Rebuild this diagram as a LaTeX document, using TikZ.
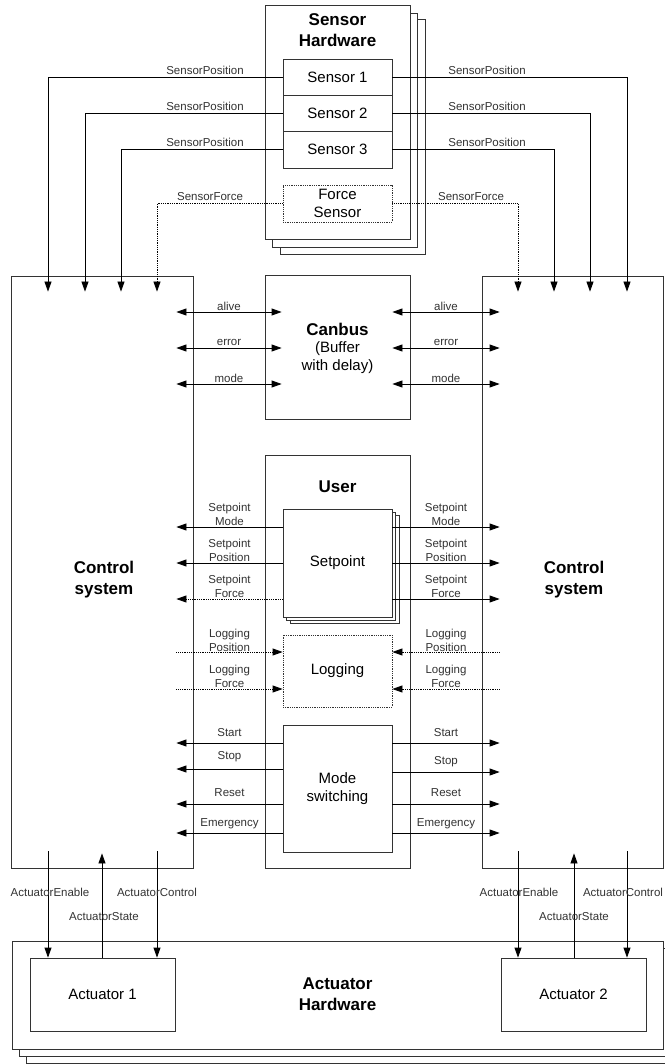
\documentclass[tikz,border=0pt]{standalone}
\usepackage{fontspec}
\setmainfont{Liberation Sans}
\usetikzlibrary{arrows.meta}
\begin{document}
\begin{tikzpicture}[x=1pt,y=-1pt,
  box/.style={draw=black!80, line width=0.8pt, fill=white, inner sep=0pt, font=\fontsize{15}{18}\selectfont, align=center},
  dbox/.style={box, densely dotted},
  ttl/.style={font=\fontsize{17}{21}\selectfont\bfseries, align=center, inner sep=0pt},
  txt/.style={font=\fontsize{15}{18}\selectfont, align=center, inner sep=0pt},
  lbl/.style={font=\fontsize{11.5}{14}\selectfont, align=center, inner sep=0pt, text=black!80},
  con/.style={line width=0.8pt, draw=black},
  arr/.style={con, -{Triangle[length=10pt,width=7pt]}},
  dbl/.style={con, {Triangle[length=10pt,width=7pt]}-{Triangle[length=10pt,width=7pt]}},
  dot/.style={densely dotted},
]
\useasboundingbox (0,0) rectangle (664,1064);
\fill[white] (0,0) rectangle (664,1064);

% Sensor hardware stack
\node[box, minimum width=145pt, minimum height=235pt] (sh3) at (352.5,136.5) {};
\node[box, minimum width=145pt, minimum height=234pt] (sh2) at (344.5,130) {};
\node[box, minimum width=145pt, minimum height=234pt] (sh) at (337.5,122) {};
\node[ttl] (shT) at (337.5,30.5) {Sensor\\Hardware};
\node[box, minimum width=109pt, minimum height=36pt] (s1) at (337.5,77) {Sensor 1};
\node[box, minimum width=109pt, minimum height=36pt] (s2) at (337.5,113) {Sensor 2};
\node[box, minimum width=109pt, minimum height=37pt] (s3) at (337.5,149.5) {Sensor 3};
\node[dbox, minimum width=109pt, minimum height=37pt] (fs) at (337.5,203.5) {Force\\Sensor};

% Control systems
\node[box, minimum width=182pt, minimum height=592pt] (cl) at (102,572) {};
\node[box, minimum width=181pt, minimum height=592pt] (cr) at (572.5,572) {};
\node[ttl] (clT) at (104,580) {Control\\system};
\node[ttl] (crT) at (574,580) {Control\\system};

% Canbus
\node[box, minimum width=145pt, minimum height=144pt] (cb) at (337.5,347) {};
\node[ttl] (cbT) at (337.5,329) {Canbus};
\node[txt] (cbB) at (337.5,358) {(Buffer\\with delay)};

% User
\node[box, minimum width=145pt, minimum height=413pt] (us) at (337.5,661.5) {};
\node[ttl] (usT) at (337.5,487) {User};
\node[box, minimum width=109pt, minimum height=108pt] (sp3) at (344.5,569.5) {};
\node[box, minimum width=109pt, minimum height=108pt] (sp2) at (341,566) {};
\node[box, minimum width=109pt, minimum height=108pt] (sp) at (337.5,563) {Setpoint};
\node[dbox, minimum width=109pt, minimum height=72pt] (lg) at (337.5,671) {Logging};
\node[box, minimum width=109pt, minimum height=127pt] (ms) at (337.5,788.5) {Mode\\switching};

% Actuator hardware
\node[box, minimum width=661pt, minimum height=108pt] (ah3) at (356.5,1009) {};
\node[box, minimum width=661pt, minimum height=108pt] (ah2) at (349.5,1002) {};
\node[box, minimum width=651pt, minimum height=108pt] (ah) at (337.5,995) {};
\node[ttl] (ahT) at (337.5,994) {Actuator\\Hardware};
\node[box, minimum width=145pt, minimum height=73pt] (a1) at (102.5,994.5) {Actuator 1};
\node[box, minimum width=145pt, minimum height=73pt] (a2) at (573.5,994.5) {Actuator 2};

% Sensor connectors
\draw[arr] (s1.west) -| ([yshift=-16pt]cl.north -| 48,0);
\draw[arr] (s2.west) -| ([yshift=-16pt]cl.north -| 85,0);
\draw[arr] (s3.west) -| ([yshift=-16pt]cl.north -| 121,0);
\draw[arr,dot] (fs.west) -| ([yshift=-16pt]cl.north -| 157,0);
\draw[arr] (s1.east) -| ([yshift=-16pt]cr.north -| 627,0);
\draw[arr] (s2.east) -| ([yshift=-16pt]cr.north -| 590,0);
\draw[arr] (s3.east) -| ([yshift=-16pt]cr.north -| 554,0);
\draw[arr,dot] (fs.east) -| ([yshift=-16pt]cr.north -| 518,0);
\node[lbl] (lsl1) at (205,70) {SensorPosition};
\node[lbl] (lsl2) at (205,106) {SensorPosition};
\node[lbl] (lsl3) at (205,142) {SensorPosition};
\node[lbl] (lsl4) at (210,197) {SensorForce};
\node[lbl] (lsr1) at (487,70) {SensorPosition};
\node[lbl] (lsr2) at (487,106) {SensorPosition};
\node[lbl] (lsr3) at (487,142) {SensorPosition};
\node[lbl] (lsr4) at (471,197) {SensorForce};

% Canbus connectors
\foreach \y/\t in {312/alive,348/error,384/mode}{
  \draw[dbl] ([xshift=-17pt]cl.east |- 0,\y) -- node[lbl,yshift=6pt] (cbl\y) {\t} ([xshift=17pt]cb.west |- 0,\y);
  \draw[dbl] ([xshift=-18pt]cb.east |- 0,\y) -- node[lbl,yshift=6pt] (cbr\y) {\t} ([xshift=18pt]cr.west |- 0,\y);
}

% Setpoint connectors
\draw[arr] (sp.west |- 0,527) -- node[lbl,yshift=13pt] (spl1) {Setpoint\\Mode} ([xshift=-17pt]cl.east |- 0,527);
\draw[arr] (sp.west |- 0,563) -- node[lbl,yshift=13pt] (spl2) {Setpoint\\Position} ([xshift=-17pt]cl.east |- 0,563);
\draw[arr,dot] (sp.west |- 0,599) -- node[lbl,yshift=13pt] (spl3) {Setpoint\\Force} ([xshift=-17pt]cl.east |- 0,599);
\draw[arr] (sp.east |- 0,527) -- node[lbl,yshift=13pt] (spr1) {Setpoint\\Mode} ([xshift=18pt]cr.west |- 0,527);
\draw[arr] (sp.east |- 0,563) -- node[lbl,yshift=13pt] (spr2) {Setpoint\\Position} ([xshift=18pt]cr.west |- 0,563);
\draw[arr] (sp.east |- 0,599) -- node[lbl,yshift=13pt] (spr3) {Setpoint\\Force} ([xshift=18pt]cr.west |- 0,599);

% Logging connectors
\draw[arr,dot] ([xshift=-17pt]cl.east |- 0,652) -- node[lbl,yshift=12pt] (lgl1) {Logging\\Position} (lg.west |- 0,652);
\draw[arr,dot] ([xshift=-17pt]cl.east |- 0,689) -- node[lbl,yshift=12.5pt] (lgl2) {Logging\\Force} (lg.west |- 0,689);
\draw[arr,dot] ([xshift=18pt]cr.west |- 0,652) -- node[lbl,yshift=12pt] (lgr1) {Logging\\Position} (lg.east |- 0,652);
\draw[arr,dot] ([xshift=18pt]cr.west |- 0,689) -- node[lbl,yshift=12.5pt] (lgr2) {Logging\\Force} (lg.east |- 0,689);

% Mode switching connectors
\draw[arr] (ms.west |- 0,743) -- node[lbl,yshift=10pt] (msl1) {Start} ([xshift=-17pt]cl.east |- 0,743);
\draw[arr] (ms.west |- 0,769) -- node[lbl,yshift=12pt] (msl2) {Stop} ([xshift=-17pt]cl.east |- 0,769);
\draw[arr] (ms.west |- 0,804) -- node[lbl,yshift=11pt] (msl3) {Reset} ([xshift=-17pt]cl.east |- 0,804);
\draw[arr] (ms.west |- 0,833) -- node[lbl,yshift=9pt] (msl4) {Emergency} ([xshift=-17pt]cl.east |- 0,833);
\draw[arr] (ms.east |- 0,743) -- node[lbl,yshift=10pt] (msr1) {Start} ([xshift=18pt]cr.west |- 0,743);
\draw[arr] (ms.east |- 0,772) -- node[lbl,yshift=10pt] (msr2) {Stop} ([xshift=18pt]cr.west |- 0,772);
\draw[arr] (ms.east |- 0,804) -- node[lbl,yshift=11pt] (msr3) {Reset} ([xshift=18pt]cr.west |- 0,804);
\draw[arr] (ms.east |- 0,833) -- node[lbl,yshift=9pt] (msr4) {Emergency} ([xshift=18pt]cr.west |- 0,833);

% Actuator connectors
\draw[arr] ([yshift=17pt]cl.south -| 48,0) -- (a1.north -| 48,0);
\draw[arr] (a1.north -| 102,0) -- ([yshift=15pt]cl.south -| 102,0);
\draw[arr] ([yshift=17pt]cl.south -| 157,0) -- (a1.north -| 157,0);
\draw[arr] ([yshift=17pt]cr.south -| 518,0) -- (a2.north -| 518,0);
\draw[arr] (a2.north -| 574,0) -- ([yshift=15pt]cr.south -| 574,0);
\draw[arr] ([yshift=17pt]cr.south -| 627,0) -- (a2.north -| 627,0);
\node[lbl] (ael) at (50,892) {ActuatorEnable};
\node[lbl] (acl) at (157,892) {ActuatorControl};
\node[lbl] (asl) at (104,917) {ActuatorState};
\node[lbl] (aer) at (519,892) {ActuatorEnable};
\node[lbl] (acr) at (623,892) {ActuatorControl};
\node[lbl] (asr) at (574,917) {ActuatorState};
\end{tikzpicture}
\end{document}
